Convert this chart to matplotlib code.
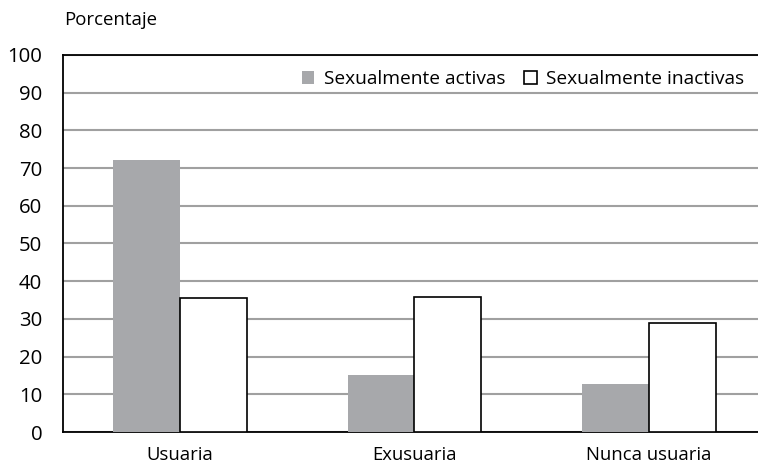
import matplotlib.pyplot as plt
import numpy as np

plt.rcParams['font.family'] = ['Open Sans', 'DejaVu Sans']

categories = ["Usuaria", "Exusuaria", "Nunca usuaria"]
activas = [72.2, 15.1, 12.6]
inactivas = [35.5, 35.9, 28.8]
series_names = ["Sexualmente activas", "Sexualmente inactivas"]

fig = plt.figure(figsize=(7.58, 4.65), dpi=100)
ax = fig.add_axes([63 / 758, 1 - 432 / 465, (758 - 63) / 758, (432 - 55) / 465])

x = np.arange(len(categories))
w = 0.285
ax.bar(x - w / 2, activas, w, color="#a7a8ab", label=series_names[0], zorder=3)
ax.bar(x + w / 2, inactivas, w, color="white", edgecolor="black", linewidth=1.2,
       label=series_names[1], zorder=3)

ax.set_xlim(-0.5, 2.466)
ax.set_ylim(0, 100)
ax.set_yticks(range(0, 101, 10))
ax.set_xticks(x)
ax.set_xticklabels(categories, fontsize=13.3)
ax.tick_params(axis='y', labelsize=14.7, length=0, pad=15)
ax.tick_params(axis='x', length=0, pad=10)
ax.yaxis.grid(True, color="#a0a0a0", linewidth=1.5, zorder=0)
ax.set_axisbelow(True)

for s in ["left", "bottom", "top"]:
    ax.spines[s].set_color("black")
    ax.spines[s].set_linewidth(1.3)
ax.spines["right"].set_visible(False)

fig.text(64 / 758, 1 - 20 / 465, "Porcentaje", fontsize=13.4, va="center", ha="left")

leg = ax.legend(loc="upper right", bbox_to_anchor=(1.0, 0.995), ncol=2, frameon=False,
                fontsize=13.8, handlelength=0.65, handleheight=0.65, handletextpad=0.5,
                columnspacing=1.0, borderaxespad=0.3)

fig.savefig("out.png", dpi=100)
